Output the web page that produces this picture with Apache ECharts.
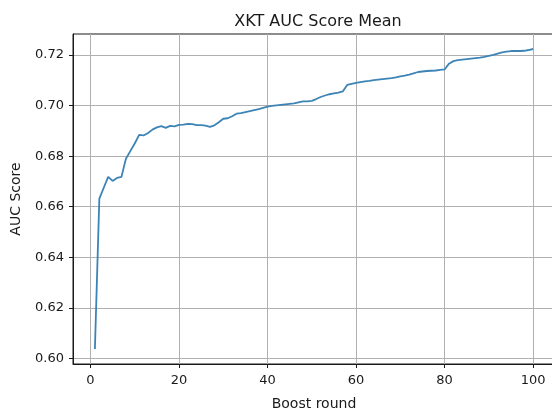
<!DOCTYPE html>
<html>
<head>
<meta charset="utf-8">
<title>XKT AUC Score Mean</title>
<script src="https://cdn.jsdelivr.net/npm/echarts@6/dist/echarts.min.js"></script>
<style>
  html, body { margin: 0; padding: 0; background: #fff; }
  #chart { width: 552px; height: 412px; }
</style>
</head>
<body>
<div id="chart"></div>
<script>
// Boosting rounds and the mean AUC score after each round
const rounds = Array.from({ length: 100 }, (_, i) => i + 1);
const aucMean = [
  0.6037, 0.6632, 0.6675, 0.6718, 0.6702, 0.6714, 0.6718, 0.6790, 0.6820, 0.6850,
  0.6884, 0.6882, 0.6892, 0.6905, 0.6914, 0.6919, 0.6912, 0.6920, 0.6918, 0.6924,
  0.6925, 0.6928, 0.6927, 0.6923, 0.6923, 0.6921, 0.6916, 0.6922, 0.6934, 0.6948,
  0.6950, 0.6958, 0.6968, 0.6970, 0.6974, 0.6978, 0.6982, 0.6986, 0.6991, 0.6996,
  0.6999, 0.7001, 0.7003, 0.7005, 0.7007, 0.7009, 0.7013, 0.7017, 0.7017, 0.7019,
  0.7026, 0.7034, 0.7040, 0.7045, 0.7048, 0.7051, 0.7056, 0.7082, 0.7086, 0.7090,
  0.7093, 0.7096, 0.7098, 0.7101, 0.7103, 0.7105, 0.7107, 0.7109, 0.7112, 0.7116,
  0.7119, 0.7123, 0.7128, 0.7133, 0.7135, 0.7137, 0.7138, 0.7139, 0.7141, 0.7143,
  0.7166, 0.7176, 0.7180, 0.7182, 0.7184, 0.7186, 0.7188, 0.7190, 0.7193, 0.7197,
  0.7201, 0.7206, 0.7211, 0.7214, 0.7216, 0.7216, 0.7216, 0.7217, 0.7220, 0.7224
];
const xTicks = [0, 20, 40, 60, 80, 100];
const yTicks = [0.60, 0.62, 0.64, 0.66, 0.68, 0.70, 0.72];

// Axis limits padded by 5% of the data span on each side
const xSpan = rounds[rounds.length - 1] - rounds[0];
const xMin = rounds[0] - xSpan * 0.05;
const xMax = rounds[rounds.length - 1] + xSpan * 0.05;
const yLo = Math.min(...aucMean), yHi = Math.max(...aucMean);
const yMin = yLo - (yHi - yLo) * 0.05;
const yMax = yHi + (yHi - yLo) * 0.05;

const ink = '#1a1a1a';
const font = 'DejaVu Sans';

const chart = echarts.init(document.getElementById('chart'), null, { renderer: 'canvas' });
chart.setOption({
  animation: false,
  backgroundColor: '#fff',
  textStyle: { fontFamily: font },
  title: {
    text: 'XKT AUC Score Mean',
    left: 313, top: 9, textAlign: 'center',
    textStyle: { fontFamily: font, fontSize: 16, fontWeight: 'normal', color: ink }
  },
  grid: {
    left: 73, top: 34, width: 482, height: 330,
    outerBoundsMode: 'none', containLabel: false,
    show: true, borderColor: ink, borderWidth: 1, backgroundColor: '#fff'
  },
  xAxis: {
    type: 'value', min: xMin, max: xMax,
    name: 'Boost round', nameLocation: 'middle', nameGap: 33,
    nameTextStyle: { fontFamily: font, fontSize: 14, color: ink },
    axisLine: { show: true, onZero: false, lineStyle: { color: ink, width: 1 } },
    axisTick: { show: true, length: 4, customValues: xTicks, lineStyle: { color: ink, width: 1 } },
    axisLabel: { customValues: xTicks, fontFamily: font, fontSize: 13, color: ink, margin: 10 },
    splitLine: { show: true, lineStyle: { color: '#b0b0b0', width: 1 } }
  },
  yAxis: {
    type: 'value', min: yMin, max: yMax,
    name: 'AUC Score', nameLocation: 'middle', nameGap: 50, nameRotate: 90,
    nameTextStyle: { fontFamily: font, fontSize: 14, color: ink },
    axisLine: { show: true, onZero: false, lineStyle: { color: ink, width: 1 } },
    axisTick: { show: true, length: 4, customValues: yTicks, lineStyle: { color: ink, width: 1 } },
    axisLabel: {
      customValues: yTicks, fontFamily: font, fontSize: 13, color: ink, margin: 9,
      formatter: v => v.toFixed(2)
    },
    splitLine: { show: true, lineStyle: { color: '#b0b0b0', width: 1 } }
  },
  series: [{
    type: 'line',
    data: rounds.map((r, i) => [r, aucMean[i]]),
    showSymbol: false,
    lineStyle: { color: '#3d84b6', width: 1.8 },
    clip: true
  }]
});
</script>
</body>
</html>
